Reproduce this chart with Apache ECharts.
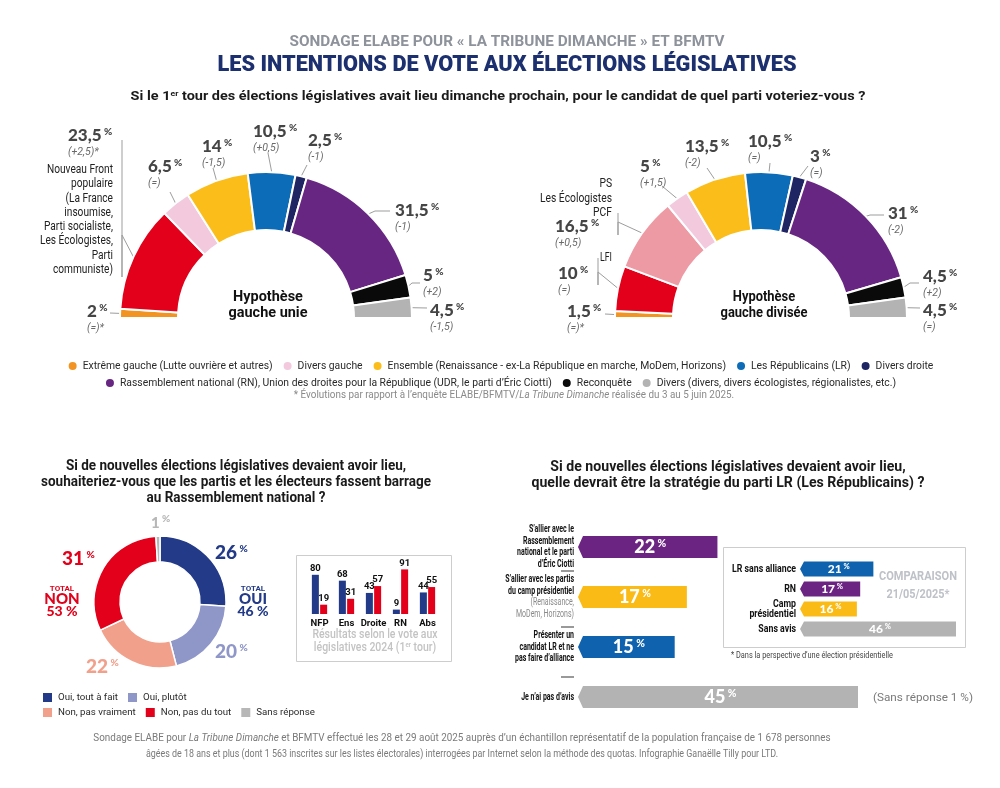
<!DOCTYPE html>
<html lang="fr"><head><meta charset="utf-8"><title>Sondage ELABE – législatives</title>
<script src="https://cdn.jsdelivr.net/npm/echarts@6.0.0/dist/echarts.min.js"></script>
<style>html,body{margin:0;padding:0;background:#fff;}#chart{width:1000px;height:788px;}</style>
</head><body><div id="chart"></div>
<script>
// ===================== DATA =====================
const partyLegend = [
  'Extrême gauche (Lutte ouvrière et autres)',
  'Divers gauche',
  'Ensemble (Renaissance - ex-La République en marche, MoDem, Horizons)',
  'Les Républicains (LR)',
  'Divers droite',
  'Rassemblement national (RN), Union des droites pour la République (UDR, le parti d’Éric Ciotti)',
  'Reconquête',
  'Divers (divers, divers écologistes, régionalistes, etc.)'
];
const nfpName = 'Nouveau Front populaire';
const lfiName = 'La France insoumise (LFI)';
const psName = 'PS – Les Écologistes – PCF';

const uniNames = [partyLegend[0], nfpName, partyLegend[1], partyLegend[2], partyLegend[3], partyLegend[4], partyLegend[5], partyLegend[6], partyLegend[7]];
const uniValues = [2, 23.5, 6.5, 14, 10.5, 2.5, 31.5, 5, 4.5];
const uniChanges = ['(=)*', '(+2,5)*', '(=)', '(-1,5)', '(+0,5)', '(-1)', '(-1)', '(+2)', '(-1,5)'];

const divNames = [partyLegend[0], lfiName, psName, partyLegend[1], partyLegend[2], partyLegend[3], partyLegend[4], partyLegend[5], partyLegend[6], partyLegend[7]];
const divValues = [1.5, 10, 16.5, 5, 13.5, 10.5, 3, 31, 4.5, 4.5];
const divChanges = ['(=)*', '(=)', '(+0,5)', '(+1,5)', '(-2)', '(=)', '(=)', '(-2)', '(+2)', '(=)'];

const nfpDescription = ['Nouveau Front', 'populaire', '(La France', 'insoumise,', 'Parti socialiste,', 'Les Écologistes,', 'Parti', 'communiste)'];
const lfiLabel = ['LFI'];
const psLabel = ['PS', 'Les Écologistes', 'PCF'];

const barrageNames = ['Oui, tout à fait', 'Oui, plutôt', 'Non, pas vraiment', 'Non, pas du tout', 'Sans réponse'];
const barrageValues = [26, 20, 22, 31, 1];
const totalOui = 46;
const totalNon = 53;

const voteCats = ['NFP', 'Ens', 'Droite', 'RN', 'Abs'];
const voteOui = [80, 68, 43, 9, 44];
const voteNon = [19, 31, 57, 91, 55];

const stratCats = ['S’allier avec le\nRassemblement\nnational et le parti\nd’Éric Ciotti', 'S’allier avec les partis\ndu camp présidentiel', 'Présenter un\ncandidat LR et ne\npas faire d’alliance', 'Je n’ai pas d’avis'];
const stratNotes = ['', '(Renaissance,\nMoDem, Horizons)', '', ''];
const stratValues = [22, 17, 15, 45];
const stratSansReponse = 1;

const compCats = ['LR sans alliance', 'RN', 'Camp\nprésidentiel', 'Sans avis'];
const compValues = [21, 17, 16, 46];

// ===================== STYLE =====================
const partyColor = {};
[ '#f29421', '#f2c9dd', '#fbbd1a', '#0c6cb8', '#1f2563', '#682683', '#0a0a0a', '#b3b3b3' ].forEach((c, i) => partyColor[partyLegend[i]] = c);
partyColor[nfpName] = '#e2001a';
partyColor[lfiName] = '#e2001a';
partyColor[psName] = '#ee9aa4';
const barrageColors = ['#223a87', '#8f96c8', '#f1a18b', '#e2001a', '#b7b7b7'];
const stratColors = ['#6b2482', '#fbbb17', '#0f62ad', '#b3b3b3'];
const compColors = ['#0f62ad', '#6b2482', '#fbbb17', '#b3b3b3'];

const cv = document.createElement('canvas').getContext('2d');
function tw(text, font) { cv.font = font; return cv.measureText(text).width; }
function hasFont(name) {
  const s = 'abcdefghijklmnopqrstuvwxyz ABCDEFG 0123';
  return Math.abs(tw(s, `40px '${name}', monospace`) - tw(s, '40px monospace')) > 1;
}
const NARROW = hasFont('Liberation Sans Narrow') ? "'Liberation Sans Narrow'" : 'Roboto';
const SANS = 'Roboto';
const HEAVY = hasFont('Lato') ? 'Lato' : 'Roboto';
const plain = s => s.replace(/\{[a-z0-9]+\|([^}]*)\}/gi, '$1');
const fmt = v => String(v).replace('.', ',');

// fitted text helper (graphic text, horizontally condensed to a target width)
function T(x, y, text, o) {
  const font = `${o.italic ? 'italic ' : ''}${o.weight || 'normal'} ${o.size}px ${o.family || SANS}`;
  let sx = 1;
  if (o.width) {
    const w = Math.max(...plain(text).split('\n').map(l => tw(l, font)));
    sx = o.width / w;
  }
  return {
    type: 'text', x, y, scaleX: sx, silent: true, z: 10,
    style: {
      text, fill: o.color || '#222', fontSize: o.size, fontWeight: o.weight || 'normal',
      fontFamily: o.family || SANS, fontStyle: o.italic ? 'italic' : 'normal',
      align: o.align || 'center', verticalAlign: 'middle', lineHeight: o.lh, rich: o.rich
    }
  };
}

// ===================== PIE LABEL LAYOUT =====================
// [left x, top y, leader line points after the arc anchor]
const uniLabelPos = [
  [87, 303, [[110, 313]]],
  [68, 127, [[122, 235], [122, 277], [122, 140]]],
  [148, 158, [[170, 192]]],
  [202, 138, [[213, 168]]],
  [253, 123, [[268, 153]]],
  [308, 132, [[307, 165]]],
  [395, 202, [[375, 211], [390, 211]]],
  [423, 267, [[412, 283], [420, 283]]],
  [430, 302, [[427, 308]]]
];
const divLabelPos = [
  [567, 303, [[605, 314]]],
  [558, 265, [[598, 272], [598, 285], [598, 258]]],
  [555, 218, [[618, 222], [618, 235], [618, 213]]],
  [640, 158, [[662, 186]]],
  [685, 138, [[707, 168]]],
  [748, 133, [[770, 163]]],
  [810, 148, [[808, 166]]],
  [888, 205, [[870, 215], [884, 215]]],
  [923, 268, [[910, 283], [919, 283]]],
  [923, 302, [[920, 308]]]
];
const barrageLabelPos = [[215, 544], [215, 643], [86, 658], [62, 550], [151, 514]];

function layoutFrom(pos) {
  return function (p) {
    const s = pos[p.dataIndex];
    if (!s) return {};
    const out = { x: s[0], y: s[1], align: 'left', verticalAlign: 'top' };
    if (s[2] && p.labelLinePoints && p.labelLinePoints.length) {
      out.labelLinePoints = [p.labelLinePoints[0]].concat(s[2]);
    }
    return out;
  };
}

const pieRich = {
  v: { fontFamily: HEAVY, fontWeight: 900, fontSize: 17, color: '#454545', lineHeight: 18 },
  p: { fontFamily: HEAVY, fontWeight: 900, fontSize: 10, color: '#454545', lineHeight: 18, verticalAlign: 'top' },
  d: { fontFamily: SANS, fontStyle: 'italic', fontSize: 10.5, color: '#6a6a6a', lineHeight: 14 }
};

function halfPie(name, center, names, values, changes, pos) {
  return {
    type: 'pie', name, center, radius: [88, 146], startAngle: 180, endAngle: 0, clockwise: true,
    avoidLabelOverlap: false, silent: true,
    itemStyle: { borderColor: '#fff', borderWidth: 2 },
    label: {
      show: true, position: 'outside', rich: pieRich,
      formatter: p => `{v|${fmt(p.value)}}{p| %}\n{d|${changes[p.dataIndex]}}`
    },
    labelLine: { show: true, length: 8, length2: 6, lineStyle: { color: '#9d9d9d', width: 1 } },
    labelLayout: layoutFrom(pos),
    data: names.map((n, i) => ({ name: n, value: values[i], itemStyle: { color: partyColor[n] } }))
  };
}

const barrageRich = {};
barrageColors.forEach((c, i) => {
  barrageRich['v' + i] = { fontFamily: HEAVY, fontWeight: 900, fontSize: i === 4 ? 15 : 19, color: c, lineHeight: 18 };
  barrageRich['p' + i] = { fontFamily: HEAVY, fontWeight: 900, fontSize: 10, color: c, lineHeight: 18, verticalAlign: 'top' };
});

// ===================== CHEVRON BARS (custom series) =====================
function chevronSeries(name, axis, values, colors, o) {
  return {
    type: 'custom', name, xAxisIndex: axis, yAxisIndex: axis, silent: true,
    data: values.map((v, i) => [v, i]),
    encode: { x: 0, y: 1 },
    renderItem(params, api) {
      const i = params.dataIndex;
      const v = api.value(0);
      const s = api.coord([0, i]);
      const e = api.coord([v, i]);
      const h = api.size([0, 1])[1] * o.ratio;
      const y = s[1], n = o.notch;
      return {
        type: 'group', children: [
          { type: 'polygon', shape: { points: [[s[0] - n, y], [s[0], y - h / 2], [e[0], y - h / 2], [e[0], y + h / 2], [s[0], y + h / 2]] }, style: { fill: colors[i] } },
          { type: 'text', x: (s[0] + e[0]) / 2, y: y, style: { text: `{a|${v}}{b| %}`, align: 'center', verticalAlign: 'middle', rich: o.valRich } },
          { type: 'text', x: s[0] - o.gap, y: y, scaleX: o.sx, style: { text: o.catText(i), align: 'right', verticalAlign: 'middle', rich: o.catRich } }
        ]
      };
    }
  };
}
const catFont = `bold 10.5px ${SANS}`;
const stratSx = 57 / tw('national et le parti', catFont);
const compSx = 64 / tw('LR sans alliance', catFont);
const catRich = {
  b: { fontFamily: SANS, fontWeight: 'bold', fontSize: 10.5, fill: '#111', lineHeight: 11.5 },
  g: { fontFamily: SANS, fontWeight: 'normal', fontSize: 10.5, fill: '#8a8a8a', lineHeight: 11.5 }
};
const compCatRich = { b: { fontFamily: SANS, fontWeight: 'bold', fontSize: 10.5, fill: '#111', lineHeight: 10 } };

// ===================== LEGEND SIZING =====================
const legRow1 = partyLegend.slice(0, 5), legRow2 = partyLegend.slice(5);
const legText1 = legRow1.reduce((a, n) => a + tw(n, `12px ${NARROW}`), 0);
const legendSize = Math.max(8, Math.min(13, 12 * (862 - 5 * 15 - 4 * 9) / legText1));
const barLegText = barrageNames.slice(2).reduce((a, n) => a + tw(n, `12px ${NARROW}`), 0);
const barLegSize = Math.max(8, Math.min(14, 12 * (271 - 3 * 16 - 2 * 8) / barLegText));
const legCommon = { icon: 'circle', itemWidth: 10, itemHeight: 10, itemGap: 9, selectedMode: false, left: 'center',
  textStyle: { fontFamily: NARROW, fontSize: legendSize, color: '#2a2a2a' } };
const barLegCommon = { icon: 'rect', itemWidth: 11, itemHeight: 11, itemGap: 8, selectedMode: false, left: 36,
  textStyle: { fontFamily: NARROW, fontSize: barLegSize, color: '#2a2a2a' } };

// ===================== GRAPHIC TEXTS =====================
const supRich = (size, color, weight) => ({
  n: { fontSize: size, fontWeight: weight, fill: color, fontFamily: SANS },
  s: { fontSize: size * 0.6, fontWeight: weight, fill: color, fontFamily: SANS, padding: [0, 0, size * 0.45, 0] },
  i: { fontSize: size, fontStyle: 'italic', fill: color, fontFamily: SANS }
});

const elements = [
  T(507, 42, 'SONDAGE ELABE POUR « LA TRIBUNE DIMANCHE » ET BFMTV', { size: 15, weight: 'bold', color: '#8d929b', width: 435 }),
  T(507, 65, 'LES INTENTIONS DE VOTE AUX ÉLECTIONS LÉGISLATIVES', { size: 22, weight: 900, color: '#1c2f6e', width: 579 }),
  T(498, 97, '{n|Si le 1}{s|er}{n| tour des élections législatives avait lieu dimanche prochain, pour le candidat de quel parti voteriez-vous ?}',
    { size: 13, weight: 'bold', color: '#1a1a1a', width: 740, rich: supRich(13, '#1a1a1a', 'bold') }),
  T(113, 220, nfpDescription.join('\n'), { size: 12, family: NARROW, color: '#222', align: 'right', lh: 14.3, width: 73 }),
  T(612, 258, lfiLabel.join('\n'), { size: 12, family: NARROW, color: '#222', align: 'right', width: 12 }),
  T(612, 198.5, psLabel.join('\n'), { size: 12, family: NARROW, color: '#222', align: 'right', lh: 14.5, width: 72 }),
  T(268, 305, 'Hypothèse\ngauche unie', { size: 15, weight: 'bold', color: '#111', lh: 16, width: 79 }),
  T(764, 305, 'Hypothèse\ngauche divisée', { size: 15, weight: 'bold', color: '#111', lh: 16, width: 87 }),
  T(514, 395, '{n|* Évolutions par rapport à l’enquête ELABE/BFMTV/}{i|La Tribune Dimanche}{n| réalisée du 3 au 5 juin 2025.}',
    { size: 11, color: '#8a8a8a', width: 443, rich: supRich(11, '#8a8a8a', 'normal') }),
  T(236, 482, 'Si de nouvelles élections législatives devaient avoir lieu,\nsouhaiteriez-vous que les partis et les électeurs fassent barrage\nau Rassemblement national ?',
    { size: 14.5, weight: 'bold', color: '#1a1a1a', lh: 16, width: 390 }),
  T(728, 475, 'Si de nouvelles élections législatives devaient avoir lieu,\nquelle devrait être la stratégie du parti LR (Les Républicains) ?',
    { size: 14.5, weight: 'bold', color: '#1a1a1a', lh: 16, width: 393 }),
  T(253, 601, `{t|TOTAL}\n{o|OUI}\n{n|${totalOui} %}`, { size: 15, color: '#223a87',
    rich: { t: { fontSize: 8, fontWeight: 'bold', fill: '#223a87', fontFamily: SANS, lineHeight: 9 },
            o: { fontSize: 15, fontWeight: 900, fill: '#223a87', fontFamily: HEAVY, lineHeight: 12 },
            n: { fontSize: 14, fontWeight: 900, fill: '#223a87', fontFamily: HEAVY, lineHeight: 12 } } }),
  T(62, 601, `{t|TOTAL}\n{o|NON}\n{n|${totalNon} %}`, { size: 15, color: '#e2001a',
    rich: { t: { fontSize: 8, fontWeight: 'bold', fill: '#e2001a', fontFamily: SANS, lineHeight: 9 },
            o: { fontSize: 15, fontWeight: 900, fill: '#e2001a', fontFamily: HEAVY, lineHeight: 12 },
            n: { fontSize: 14, fontWeight: 900, fill: '#e2001a', fontFamily: HEAVY, lineHeight: 12 } } }),
  { type: 'rect', silent: true, shape: { x: 296.5, y: 555.5, width: 155, height: 106 }, style: { fill: 'none', stroke: '#cdcdcd', lineWidth: 1 } },
  T(375, 641, '{n|Résultats selon le vote aux}\n{n|législatives 2024 (1}{s|er}{n| tour)}', { size: 12.5, weight: 500, color: '#c3c3c3', lh: 13, width: 126,
    rich: { n: { fontSize: 12.5, fontWeight: 500, fill: '#c3c3c3', fontFamily: SANS, lineHeight: 13 },
            s: { fontSize: 7.5, fontWeight: 500, fill: '#c3c3c3', fontFamily: SANS, lineHeight: 13, padding: [0, 0, 5, 0] } } }),
  { type: 'line', silent: true, shape: { x1: 561, y1: 571, x2: 574, y2: 571 }, style: { stroke: '#555', lineWidth: 1.2 } },
  { type: 'line', silent: true, shape: { x1: 561, y1: 627, x2: 574, y2: 627 }, style: { stroke: '#555', lineWidth: 1.2 } },
  { type: 'line', silent: true, shape: { x1: 561, y1: 677, x2: 574, y2: 677 }, style: { stroke: '#555', lineWidth: 1.2 } },
  T(873, 698, `(Sans réponse ${stratSansReponse} %)`, { size: 10.5, color: '#7a7a7a', align: 'left', width: 100 }),
  { type: 'rect', silent: true, shape: { x: 723.5, y: 547.5, width: 242, height: 100 }, style: { fill: 'none', stroke: '#cdcdcd', lineWidth: 1 } },
  T(918, 577, 'COMPARAISON', { size: 13.5, weight: 'bold', color: '#bec1c7', width: 78 }),
  T(918, 595, '21/05/2025*', { size: 13.5, weight: 'bold', color: '#bec1c7', width: 63 }),
  T(731, 656, '* Dans la perspective d’une élection présidentielle', { size: 9, color: '#444', align: 'left', width: 162 }),
  T(462, 738, '{n|Sondage ELABE pour }{i|La Tribune Dimanche}{n| et BFMTV effectué les 28 et 29 août 2025 auprès d’un échantillon représentatif de la population française de 1 678 personnes}',
    { size: 11.5, color: '#7a7a7a', width: 740, rich: supRich(11.5, '#7a7a7a', 'normal') }),
  T(462, 754, 'âgées de 18 ans et plus (dont 1 563 inscrites sur les listes électorales) interrogées par Internet selon la méthode des quotas. Infographie Ganaëlle Tilly pour LTD.',
    { size: 11.5, color: '#7a7a7a', width: 632 })
];

// ===================== OPTION =====================
const option = {
  animation: false,
  backgroundColor: '#ffffff',
  legend: [
    Object.assign({ data: legRow1, top: 355 }, legCommon),
    Object.assign({ data: legRow2, top: 372 }, legCommon),
    Object.assign({ data: barrageNames.slice(0, 2), top: 686 }, barLegCommon),
    Object.assign({ data: barrageNames.slice(2), top: 701 }, barLegCommon)
  ],
  grid: [
    { left: 306, top: 565, width: 135, height: 49 },
    { left: 583, top: 522, width: 275, height: 200 },
    { left: 804, top: 559, width: 152, height: 80 }
  ],
  xAxis: [
    { gridIndex: 0, type: 'category', data: voteCats, axisLine: { show: false }, axisTick: { show: false },
      axisLabel: { interval: 0, hideOverlap: false, fontFamily: NARROW, fontWeight: 'bold', fontSize: 9.5, color: '#111', margin: 5 } },
    { gridIndex: 1, type: 'value', min: 0, max: 45, show: false },
    { gridIndex: 2, type: 'value', min: 0, max: 46, show: false }
  ],
  yAxis: [
    { gridIndex: 0, type: 'value', min: 0, max: 100, show: false },
    { gridIndex: 1, type: 'category', data: stratCats, inverse: true, show: false },
    { gridIndex: 2, type: 'category', data: compCats, inverse: true, show: false }
  ],
  series: [
    halfPie('Hypothèse gauche unie', [266, 318], uniNames, uniValues, uniChanges, uniLabelPos),
    halfPie('Hypothèse gauche divisée', [761, 318], divNames, divValues, divChanges, divLabelPos),
    {
      type: 'pie', name: 'Barrage au RN', center: [160, 602], radius: [40, 66], startAngle: 90, clockwise: true,
      avoidLabelOverlap: false, silent: true,
      itemStyle: { borderColor: '#fff', borderWidth: 1.5 },
      label: { show: true, position: 'outside', rich: barrageRich, formatter: p => `{v${p.dataIndex}|${p.value}}{p${p.dataIndex}| %}` },
      labelLine: { show: false },
      labelLayout: layoutFrom(barrageLabelPos),
      data: barrageNames.map((n, i) => ({ name: n, value: barrageValues[i], itemStyle: { color: barrageColors[i] } }))
    },
    {
      type: 'bar', name: 'Oui', xAxisIndex: 0, yAxisIndex: 0, data: voteOui, barWidth: 7, barGap: '18%', silent: true,
      itemStyle: { color: '#223a87' },
      label: { show: true, position: 'top', distance: 1, fontFamily: NARROW, fontWeight: 'bold', fontSize: 9.5, color: '#111' }
    },
    {
      type: 'bar', name: 'Non', xAxisIndex: 0, yAxisIndex: 0, data: voteNon, barWidth: 7, barGap: '18%', silent: true,
      itemStyle: { color: '#e2001a' },
      label: { show: true, position: 'top', distance: 1, fontFamily: NARROW, fontWeight: 'bold', fontSize: 9.5, color: '#111' }
    },
    chevronSeries('Stratégie LR', 1, stratValues, stratColors, {
      ratio: 0.44, notch: 5, gap: 9, sx: stratSx,
      valRich: { a: { fontFamily: HEAVY, fontWeight: 900, fontSize: 18, fill: '#fff' },
                 b: { fontFamily: HEAVY, fontWeight: 900, fontSize: 10.5, fill: '#fff', verticalAlign: 'top', padding: [0, 0, 6, 0] } },
      catRich,
      catText: i => stratCats[i].split('\n').map(l => `{b|${l}}`).join('\n') + (stratNotes[i] ? '\n' + stratNotes[i].split('\n').map(l => `{g|${l}}`).join('\n') : '')
    }),
    chevronSeries('Comparaison 21/05/2025', 2, compValues, compColors, {
      ratio: 0.75, notch: 4, gap: 8, sx: compSx,
      valRich: { a: { fontFamily: HEAVY, fontWeight: 900, fontSize: 12, fill: '#fff' },
                 b: { fontFamily: HEAVY, fontWeight: 900, fontSize: 7.5, fill: '#fff', verticalAlign: 'top', padding: [0, 0, 4, 0] } },
      catRich: compCatRich,
      catText: i => compCats[i].split('\n').map(l => `{b|${l}}`).join('\n')
    })
  ],
  graphic: { elements }
};

const chart = echarts.init(document.getElementById('chart'), null, { renderer: 'canvas' });
chart.setOption(option);
</script>
</body></html>
